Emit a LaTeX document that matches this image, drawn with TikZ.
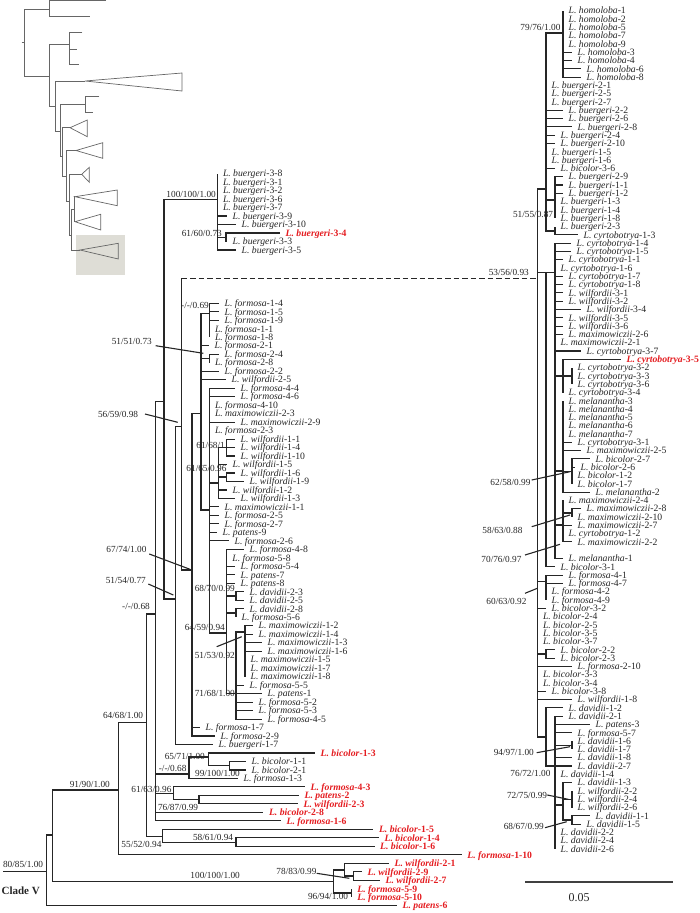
\documentclass[tikz,border=0pt]{standalone}
\usepackage{fontspec}
\setmainfont{Liberation Serif}
\definecolor{hired}{RGB}{228,28,32}
\definecolor{boxgray}{RGB}{222,221,214}
\tikzset{
  twig/.style={line width=1.1pt, black!85},
  leafnode/.style={anchor=west, inner xsep=5.5pt, inner ysep=0pt, text height=6.4pt, text depth=0pt, font=\fontsize{9.7}{9.7}\selectfont, text=black!85},
  redleaf/.style={leafnode, text=hired, font=\fontsize{9.7}{9.7}\selectfont\bfseries},
  suplab/.style={anchor=east, inner sep=0pt, text height=6.3pt, text depth=0pt, font=\fontsize{9.3}{9.3}\selectfont, text=black!85},
  inset/.style={line width=0.7pt, black!60},
}
\newcommand\taxon[2]{\textit{L. #1}-#2}
\newcommand\addtip[5]{\node[leafnode] (#4#5) at (#2,#3) {\taxon{#4}{#5}};
  \draw[twig] (#1) |- (#4#5.west);}
\newcommand\addred[5]{\node[redleaf] (#4#5) at (#2,#3) {\taxon{#4}{#5}};
  \draw[twig] (#1) |- (#4#5.west);}
\begin{document}
\begin{tikzpicture}[x=1pt,y=-1pt]
\useasboundingbox (0,0) rectangle (700,913);
% overview tree
\fill[boxgray] (76,235) rectangle (125,275);
\draw[inset] (21.7,42.3) -- (24.3,42.3);
\draw[inset] (106,0.8) -| (49,16.7) -- (90,16.7);
\draw[inset] (49,9) -| (24.3,76) -- (49,76);
\draw[inset] (69,44.3) -| (49,106.7) -- (55.7,106.7);
\draw[inset] (82.3,32.7) -| (69,64.3) -- (79,64.3);
\draw[inset] (69,49) -- (77.3,49);
\draw[inset] (85,81) -| (55.7,131) -- (60,131);
\draw[inset] (85,81) -- (182,73) -- (182,91) -- cycle;
\draw[inset] (85,104.3) -| (60,156.7) -- (62.7,156.7);
\draw[inset] (99.3,96.7) -| (85,112.3) -- (93.3,112.3);
\draw[inset] (70,127.7) -| (62.7,176.7) -- (66,176.7);
\draw[inset] (70,127.7) -- (87.3,120) -- (87.3,136.7) -- cycle;
\draw[inset] (76,150.5) -| (66,201.7) -- (69.3,201.7);
\draw[inset] (76,150.5) -- (102.7,142.7) -- (102.7,158.3) -- cycle;
\draw[inset] (81.7,174.3) -| (69.3,235) -- (71.7,235);
\draw[inset] (81.7,174.3) -- (89.3,167.3) -- (89.3,182.3) -- cycle;
\draw[inset] (74,209.3) -| (71.7,250) -- (80,250);
\draw[inset] (75,196.7) -| (74,221.7) -- (75,221.7);
\draw[inset] (75,196.7) -- (117.3,190) -- (117.3,205.7) -- cycle;
\draw[inset] (75,221.7) -- (100.7,214.3) -- (100.7,230) -- cycle;
\draw[inset] (80,250) -- (118.3,243.3) -- (118.3,259) -- cycle;
% left part
\coordinate (root) at (3,871.7);
\coordinate (rt) at (46.7,871.7);
\coordinate (nn) at (52.3,835);
\coordinate (m118) at (118.3,790);
\coordinate (n146) at (146.7,722.7);
\coordinate (z) at (155.7,614);
\coordinate (p164) at (164,401.7);
\coordinate (bu3) at (217.3,199.3);
\coordinate (b61) at (226,237.2);
\coordinate (q) at (175.7,599);
\coordinate (r) at (181.7,426.7);
\coordinate (rtop) at (181.7,278.3);
\coordinate (s) at (192,570);
\coordinate (t) at (201,413.3);
\coordinate (f1) at (209.3,313.3);
\coordinate (f2) at (209.3,358.5);
\coordinate (u) at (209.3,510);
\coordinate (wg) at (218.3,483);
\coordinate (w61) at (226.7,447.5);
\coordinate (w1b) at (226.7,477);
\coordinate (w) at (226.7,633);
\coordinate (d23) at (236,596);
\coordinate (d28) at (236,613);
\coordinate (w71) at (236,693.6);
\coordinate (mx1) at (245,632);
\coordinate (aa) at (189,774);
\coordinate (bb) at (208.3,757);
\coordinate (cc) at (229.3,765.7);
\coordinate (g61) at (173.3,793.5);
\coordinate (g76) at (199,799.6);
\coordinate (dd) at (162.3,836.7);
\coordinate (d58) at (236,842.1);
\coordinate (ee) at (333.3,881.7);
\coordinate (ff) at (344.3,870);
\coordinate (f2b) at (353.3,876);
\coordinate (gg) at (351.7,893);
% right part
\coordinate (ra) at (537.3,278.3);
\coordinate (rb) at (546,189);
\coordinate (hg) at (563,33);
\coordinate (bg) at (555,200);
\coordinate (bc) at (555,231);
\coordinate (rc) at (546,272.3);
\coordinate (rd) at (555,272.3);
\coordinate (m1) at (563,376);
\coordinate (m1s) at (572,376);
\coordinate (m2) at (563,471);
\coordinate (bs) at (572,471.7);
\coordinate (mx) at (563,525);
\coordinate (mxs) at (572,513);
\coordinate (f4) at (546,581.7);
\coordinate (b22) at (546,654);
\coordinate (re) at (546,737);
\coordinate (rf) at (555,766);
\coordinate (f94) at (572,745.5);
\coordinate (rh) at (563,805);
\coordinate (h72) at (572,799.2);
\coordinate (h68) at (572,820);

\draw[twig] (root) -- (rt);
\draw[twig] (rt) |- (nn);
\draw[twig] (nn) |- (m118);
\draw[twig] (nn) |- (ee);
\draw[twig] (m118) |- (n146);
\draw[twig] (n146) |- (z);
\draw[twig] (n146) |- (dd);
\draw[twig] (z) |- (p164);
\draw[twig] (z) |- (aa);
\draw[twig] (z) |- (g61);
\draw[twig] (p164) |- (bu3);
\draw[twig] (p164) |- (q);
\draw[twig] (bu3) |- (b61);
\draw[twig] (q) |- (r);
\draw[twig] (r) -- (rtop);
\draw[twig, dash pattern=on 5.5pt off 3pt] (rtop) -- (ra);
\draw[twig] (r) |- (s);
\draw[twig] (s) |- (t);
\draw[twig] (t) |- (f1);
\draw[twig] (t) |- (f2);
\draw[twig] (t) |- (u);
\draw[twig] (u) |- (wg);
\draw[twig] (u) |- (w);
\draw[twig] (wg) |- (w61);
\draw[twig] (wg) |- (w1b);
\draw[twig] (w) |- (d23);
\draw[twig] (w) |- (d28);
\draw[twig] (w) |- (w71);
\draw[twig] (w71) |- (mx1);
\draw[twig] (aa) |- (bb);
\draw[twig] (bb) |- (cc);
\draw[twig] (g61) |- (g76);
\draw[twig] (dd) |- (d58);
\draw[twig] (ee) |- (ff);
\draw[twig] (ee) |- (gg);
\draw[twig] (ff) |- (f2b);
\draw[twig] (ra) |- (rb);
\draw[twig] (ra) |- (rc);
\draw[twig] (ra) |- (f4);
\draw[twig] (ra) |- (b22);
\draw[twig] (ra) |- (re);
\draw[twig] (rb) |- (hg);
\draw[twig] (rb) |- (bg);
\draw[twig] (rb) |- (bc);
\draw[twig] (rc) -- (rd);
\draw[twig] (rd) |- (m1);
\draw[twig] (rd) |- (m2);
\draw[twig] (rd) |- (mx);
\draw[twig] (m1) -- (m1s);
\draw[twig] (m2) |- (bs);
\draw[twig] (mx) |- (mxs);
\draw[twig] (re) |- (rf);
\draw[twig] (rf) |- (f94);
\draw[twig] (rf) |- (rh);
\draw[twig] (rh) |- (h72);
\draw[twig] (rh) |- (h68);

\addtip{bu3}{217.3}{173.6}{buergeri}{3-8}
\addtip{bu3}{217.3}{182.1}{buergeri}{3-1}
\addtip{bu3}{217.3}{190.6}{buergeri}{3-2}
\addtip{bu3}{217.3}{199.1}{buergeri}{3-6}
\addtip{bu3}{217.3}{207.6}{buergeri}{3-7}
\addtip{bu3}{227}{216.0}{buergeri}{3-9}
\addtip{bu3}{236}{224.5}{buergeri}{3-10}
\addred{b61}{280}{233.0}{buergeri}{3-4}
\addtip{b61}{227}{241.5}{buergeri}{3-3}
\addtip{bu3}{236}{250.0}{buergeri}{3-5}
\addtip{f1}{219}{303.3}{formosa}{1-4}
\addtip{f1}{219}{311.8}{formosa}{1-5}
\addtip{f1}{219}{320.3}{formosa}{1-9}
\addtip{f1}{209.3}{328.8}{formosa}{1-1}
\addtip{f1}{209.3}{337.2}{formosa}{1-8}
\addtip{t}{209}{345.7}{formosa}{2-1}
\addtip{f2}{219}{354.2}{formosa}{2-4}
\addtip{f2}{209.3}{362.7}{formosa}{2-8}
\addtip{t}{219}{371.2}{formosa}{2-2}
\addtip{t}{226}{379.7}{wilfordii}{2-5}
\addtip{u}{235}{388.2}{formosa}{4-4}
\addtip{u}{235}{396.6}{formosa}{4-6}
\addtip{u}{209.3}{405.1}{formosa}{4-10}
\addtip{u}{209.3}{413.6}{maximowiczii}{2-3}
\addtip{u}{235}{422.1}{maximowiczii}{2-9}
\addtip{u}{209.3}{430.6}{formosa}{2-3}
\addtip{w61}{235}{439.1}{wilfordii}{1-1}
\addtip{w61}{235}{447.5}{wilfordii}{1-4}
\addtip{w61}{235}{456.0}{wilfordii}{1-10}
\addtip{wg}{227}{464.5}{wilfordii}{1-5}
\addtip{w1b}{235}{473.0}{wilfordii}{1-6}
\addtip{w1b}{244}{481.5}{wilfordii}{1-9}
\addtip{wg}{227}{490.0}{wilfordii}{1-2}
\addtip{wg}{235}{498.5}{wilfordii}{1-3}
\addtip{u}{219}{506.9}{maximowiczii}{1-1}
\addtip{u}{219}{515.4}{formosa}{2-5}
\addtip{u}{219}{523.9}{formosa}{2-7}
\addtip{u}{217}{532.4}{patens}{9}
\addtip{u}{229}{540.9}{formosa}{2-6}
\addtip{w}{244}{549.4}{formosa}{4-8}
\addtip{w}{226.7}{557.9}{formosa}{5-8}
\addtip{w}{235}{566.3}{formosa}{5-4}
\addtip{w}{235}{574.8}{patens}{7}
\addtip{w}{235}{583.3}{patens}{8}
\addtip{d23}{244}{591.8}{davidii}{2-3}
\addtip{d23}{244}{600.3}{davidii}{2-5}
\addtip{d28}{244}{608.8}{davidii}{2-8}
\addtip{d28}{236}{617.2}{formosa}{5-6}
\addtip{mx1}{253}{625.7}{maximowiczii}{1-2}
\addtip{mx1}{253}{634.2}{maximowiczii}{1-4}
\addtip{mx1}{262}{642.7}{maximowiczii}{1-3}
\addtip{mx1}{262}{651.2}{maximowiczii}{1-6}
\addtip{mx1}{245}{659.7}{maximowiczii}{1-5}
\addtip{mx1}{245}{668.2}{maximowiczii}{1-7}
\addtip{mx1}{245}{676.6}{maximowiczii}{1-8}
\addtip{w71}{244}{685.1}{formosa}{5-5}
\addtip{w71}{262}{693.6}{patens}{1}
\addtip{w71}{253}{702.1}{formosa}{5-2}
\addtip{w71}{253}{710.6}{formosa}{5-3}
\addtip{w71}{262}{719.1}{formosa}{4-5}
\addtip{s}{200}{727.6}{formosa}{1-7}
\addtip{s}{215}{736.0}{formosa}{2-9}
\addtip{q}{213}{744.5}{buergeri}{1-7}
\addred{bb}{315}{753.0}{bicolor}{1-3}
\addtip{cc}{246}{761.5}{bicolor}{1-1}
\addtip{cc}{246}{770.0}{bicolor}{2-1}
\addtip{aa}{238}{778.5}{formosa}{1-3}
\addred{g61}{305}{786.9}{formosa}{4-3}
\addred{g76}{299}{795.4}{patens}{2}
\addred{g76}{298}{803.9}{wilfordii}{2-3}
\addred{z}{263.3}{812.4}{bicolor}{2-8}
\addred{z}{281}{820.9}{formosa}{1-6}
\addred{dd}{373.3}{829.4}{bicolor}{1-5}
\addred{d58}{379}{837.9}{bicolor}{1-4}
\addred{d58}{374.5}{846.3}{bicolor}{1-6}
\addred{m118}{461.7}{854.8}{formosa}{1-10}
\addred{ff}{389}{863.3}{wilfordii}{2-1}
\addred{f2b}{362}{871.8}{wilfordii}{2-9}
\addred{f2b}{380}{880.3}{wilfordii}{2-7}
\addred{gg}{351.7}{888.8}{formosa}{5-9}
\addred{gg}{351.7}{897.2}{formosa}{5-10}
\addred{rt}{397}{905.7}{patens}{6}

\addtip{hg}{563}{10.7}{homoloba}{1}
\addtip{hg}{563}{19.0}{homoloba}{2}
\addtip{hg}{563}{27.3}{homoloba}{5}
\addtip{hg}{563}{35.6}{homoloba}{7}
\addtip{hg}{563}{43.9}{homoloba}{9}
\addtip{hg}{572}{52.2}{homoloba}{3}
\addtip{hg}{572}{60.5}{homoloba}{4}
\addtip{hg}{581}{68.8}{homoloba}{6}
\addtip{hg}{581}{77.1}{homoloba}{8}
\addtip{rb}{546}{85.4}{buergeri}{2-1}
\addtip{rb}{546}{93.7}{buergeri}{2-5}
\addtip{rb}{546}{102.0}{buergeri}{2-7}
\addtip{rb}{563}{110.3}{buergeri}{2-2}
\addtip{rb}{563}{118.6}{buergeri}{2-6}
\addtip{rb}{572}{126.9}{buergeri}{2-8}
\addtip{rb}{555}{135.2}{buergeri}{2-4}
\addtip{rb}{555}{143.5}{buergeri}{2-10}
\addtip{rb}{546}{151.8}{buergeri}{1-5}
\addtip{rb}{546}{160.1}{buergeri}{1-6}
\addtip{rb}{555}{168.4}{bicolor}{3-6}
\addtip{bg}{563}{176.7}{buergeri}{2-9}
\addtip{bg}{563}{185.0}{buergeri}{1-1}
\addtip{bg}{563}{193.3}{buergeri}{1-2}
\addtip{bg}{555}{201.6}{buergeri}{1-3}
\addtip{bg}{555}{209.9}{buergeri}{1-4}
\addtip{bg}{555}{218.2}{buergeri}{1-8}
\addtip{bc}{555}{226.5}{buergeri}{2-3}
\addtip{bc}{578}{234.8}{cyrtobotrya}{1-3}
\addtip{rd}{571}{243.1}{cyrtobotrya}{1-4}
\addtip{rd}{571}{251.4}{cyrtobotrya}{1-5}
\addtip{rd}{563}{259.7}{cyrtobotrya}{1-1}
\addtip{rd}{555}{268.0}{cyrtobotrya}{1-6}
\addtip{rd}{563}{276.3}{cyrtobotrya}{1-7}
\addtip{rd}{563}{284.6}{cyrtobotrya}{1-8}
\addtip{rd}{563}{292.9}{wilfordii}{3-1}
\addtip{rd}{563}{301.2}{wilfordii}{3-2}
\addtip{rd}{581}{309.5}{wilfordii}{3-4}
\addtip{rd}{563}{317.8}{wilfordii}{3-5}
\addtip{rd}{563}{326.1}{wilfordii}{3-6}
\addtip{rd}{563}{334.4}{maximowiczii}{2-6}
\addtip{rd}{555}{342.7}{maximowiczii}{2-1}
\addtip{rd}{581}{351.0}{cyrtobotrya}{3-7}
\addred{m1}{621}{359.3}{cyrtobotrya}{3-5}
\addtip{m1s}{572}{367.6}{cyrtobotrya}{3-2}
\addtip{m1s}{572}{375.9}{cyrtobotrya}{3-3}
\addtip{m1s}{572}{384.2}{cyrtobotrya}{3-6}
\addtip{m1}{563}{392.5}{cyrtobotrya}{3-4}
\addtip{m2}{563}{400.8}{melanantha}{3}
\addtip{m2}{563}{409.1}{melanantha}{4}
\addtip{m2}{563}{417.4}{melanantha}{5}
\addtip{m2}{563}{425.7}{melanantha}{6}
\addtip{m2}{563}{434.0}{melanantha}{7}
\addtip{m2}{572}{442.3}{cyrtobotrya}{3-1}
\addtip{m2}{581}{450.6}{maximowiczii}{2-5}
\addtip{bs}{590}{458.9}{bicolor}{2-7}
\addtip{bs}{575}{467.2}{bicolor}{2-6}
\addtip{bs}{572}{475.5}{bicolor}{1-2}
\addtip{bs}{572}{483.8}{bicolor}{1-7}
\addtip{m2}{590}{492.1}{melanantha}{2}
\addtip{mx}{563}{500.4}{maximowiczii}{2-4}
\addtip{mxs}{581}{508.7}{maximowiczii}{2-8}
\addtip{mxs}{572}{517.0}{maximowiczii}{2-10}
\addtip{mx}{572}{525.3}{maximowiczii}{2-7}
\addtip{mx}{563}{533.6}{cyrtobotrya}{1-2}
\addtip{mx}{572}{541.9}{maximowiczii}{2-2}
\addtip{rd}{563}{558.5}{melanantha}{1}
\addtip{rc}{555}{566.8}{bicolor}{3-1}
\addtip{f4}{563}{575.1}{formosa}{4-1}
\addtip{f4}{563}{583.4}{formosa}{4-7}
\addtip{f4}{546}{591.7}{formosa}{4-2}
\addtip{f4}{546}{600.0}{formosa}{4-9}
\addtip{ra}{546}{608.3}{bicolor}{3-2}
\addtip{ra}{537.3}{616.6}{bicolor}{2-4}
\addtip{ra}{537.3}{624.9}{bicolor}{2-5}
\addtip{ra}{537.3}{633.2}{bicolor}{3-5}
\addtip{ra}{537.3}{641.5}{bicolor}{3-7}
\addtip{b22}{555}{649.8}{bicolor}{2-2}
\addtip{b22}{555}{658.1}{bicolor}{2-3}
\addtip{ra}{572}{666.4}{formosa}{2-10}
\addtip{ra}{537.3}{674.7}{bicolor}{3-3}
\addtip{ra}{537.3}{683.0}{bicolor}{3-4}
\addtip{ra}{546}{691.3}{bicolor}{3-8}
\addtip{ra}{572}{699.6}{wilfordii}{1-8}
\addtip{re}{563}{707.9}{davidii}{1-2}
\addtip{rf}{563}{716.2}{davidii}{2-1}
\addtip{rf}{590}{724.5}{patens}{3}
\addtip{rf}{572}{732.8}{formosa}{5-7}
\addtip{f94}{572}{741.1}{davidii}{1-6}
\addtip{f94}{572}{749.4}{davidii}{1-7}
\addtip{rf}{572}{757.7}{davidii}{1-8}
\addtip{rf}{572}{766.0}{davidii}{2-7}
\addtip{rf}{555}{774.3}{davidii}{1-4}
\addtip{rh}{572}{782.6}{davidii}{1-3}
\addtip{h72}{572}{790.9}{wilfordii}{2-2}
\addtip{h72}{572}{799.2}{wilfordii}{2-4}
\addtip{h72}{572}{807.5}{wilfordii}{2-6}
\addtip{h68}{590}{815.8}{davidii}{1-1}
\addtip{h68}{581}{824.1}{davidii}{1-5}
\addtip{rf}{555}{832.4}{davidii}{2-2}
\addtip{rf}{555}{840.7}{davidii}{2-4}
\addtip{rf}{555}{849.0}{davidii}{2-6}

% support values
\node[suplab] (l100a) at (216,194) {100/100/1.00};
\node[suplab] (l6160) at (222,233) {61/60/0.73};
\node[suplab] (l069) at (209,305) {-/-/0.69};
\node[suplab] (l5151) at (152,341.7) {51/51/0.73};
\node[suplab] (l5659) at (138.3,414.3) {56/59/0.98};
\node[suplab] (l6168) at (225,445) {61/68/1};
\node[suplab] (l6165) at (226.7,468.3) {61/65/0.96};
\node[suplab] (l6774) at (146.7,549.3) {67/74/1.00};
\node[suplab] (l5154) at (146,580) {51/54/0.77};
\node[suplab] (l068a) at (150,606) {-/-/0.68};
\node[suplab] (l6870) at (235,588.3) {68/70/0.99};
\node[suplab] (l6459) at (225,627.3) {64/59/0.94};
\node[suplab] (l5153) at (235,655) {51/53/0.92};
\node[suplab] (l7168) at (235,693.3) {71/68/1.00};
\node[suplab] (l6468) at (143.3,715) {64/68/1.00};
\node[suplab] (l6571) at (205,756) {65/71/1.00};
\node[suplab] (l068b) at (186.7,768.3) {-/-/0.68};
\node[suplab] (l99100) at (240,773.3) {99/100/1.00};
\node[suplab] (l9190) at (110,784.3) {91/90/1.00};
\node[suplab] (l6163) at (171.7,789.3) {61/63/0.96};
\node[suplab] (l7687) at (198.3,807.7) {76/87/0.99};
\node[suplab] (l5861) at (233.3,837.3) {58/61/0.94};
\node[suplab] (l5552) at (161.7,844) {55/52/0.94};
\node[suplab] (l8085) at (43.3,864) {80/85/1.00};
\node[suplab] (l7883) at (316.7,871) {78/83/0.99};
\node[suplab] (l100b) at (240,875.7) {100/100/1.00};
\node[suplab] (l9694) at (348.3,896.7) {96/94/1.00};
\node[suplab, font=\fontsize{11}{11}\selectfont\bfseries] (cladev) at (40,891.7) {Clade V};
\node[suplab] (l7976) at (560.7,27.3) {79/76/1.00};
\node[suplab] (l5155) at (553.3,214.3) {51/55/0.87};
\node[suplab] (l5356) at (529,272.3) {53/56/0.93};
\node[suplab] (l6258) at (530.7,482.7) {62/58/0.99};
\node[suplab] (l5863) at (522.7,530.7) {58/63/0.88};
\node[suplab] (l7076) at (521.7,559) {70/76/0.97};
\node[suplab] (l6063) at (526.7,601.7) {60/63/0.92};
\node[suplab] (l9497) at (534,752.3) {94/97/1.00};
\node[suplab] (l7672) at (550.7,773.3) {76/72/1.00};
\node[suplab] (l7275) at (547.3,795) {72/75/0.99};
\node[suplab] (l6867) at (544,826.7) {68/67/0.99};

% pointer lines
\coordinate (a5151) at (155.7,345.7);
\coordinate (b5151) at (203.3,353.3);
\coordinate (a5659) at (145,414);
\coordinate (b5659) at (177.7,422.3);
\coordinate (a6774) at (149.3,554);
\coordinate (b6774) at (190,569.3);
\coordinate (a5154) at (148.3,584);
\coordinate (b5154) at (173.3,595);
\coordinate (a5153) at (216.7,646.7);
\coordinate (b5153) at (241.7,636.7);
\coordinate (a7883) at (316.7,873.3);
\coordinate (b7883) at (349.3,878.3);
\coordinate (a6258) at (531.7,480);
\coordinate (b6258) at (570,471.7);
\coordinate (a5863) at (531.7,526.7);
\coordinate (b5863) at (570,515);
\coordinate (a7076) at (525,555);
\coordinate (b7076) at (560,544.3);
\coordinate (a6063) at (525,593.3);
\coordinate (b6063) at (537.3,588.3);
\coordinate (a9497) at (536.7,752.7);
\coordinate (b9497) at (570,746.7);
\coordinate (a7275) at (547.3,795);
\coordinate (b7275) at (568.3,799.3);
\coordinate (a6867) at (545,827.7);
\coordinate (b6867) at (566.7,821.7);
\draw[twig] (a5151) -- (b5151);
\draw[twig] (a5659) -- (b5659);
\draw[twig] (a6774) -- (b6774);
\draw[twig] (a5154) -- (b5154);
\draw[twig] (a5153) -- (b5153);
\draw[twig] (a7883) -- (b7883);
\draw[twig] (a6258) -- (b6258);
\draw[twig] (a5863) -- (b5863);
\draw[twig] (a7076) -- (b7076);
\draw[twig] (a6063) -- (b6063);
\draw[twig] (a9497) -- (b9497);
\draw[twig] (a7275) -- (b7275);
\draw[twig] (a6867) -- (b6867);

% scale bar
\coordinate (sbl) at (525,881.7);
\coordinate (sbr) at (673.3,881.7);
\draw[line width=1.6pt, black!75] (sbl) -- (sbr);
\node[font=\fontsize{12}{12}\selectfont, text=black!85] (sbt) at (579,897.7) {0.05};
\end{tikzpicture}
\end{document}
